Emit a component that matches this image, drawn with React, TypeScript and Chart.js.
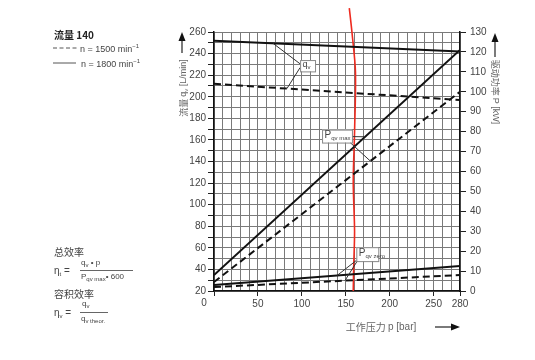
import React, { useEffect, useRef } from 'react';
import { Chart, registerables } from 'chart.js';

Chart.register(...registerables);

// ---- data ----
const pressureBar = [0, 280];
const flow1800 = [252, 242];
const flow1500 = [212, 197];
const powerMax1800 = [8, 121];
const powerMax1500 = [4.5, 100];
const powerZero1800 = [3, 12.5];
const powerZero1500 = [2, 8];
const redPressure = [154, 157, 161, 160, 158.5, 160, 159, 158.5];
const redPower = [142, 130, 110, 80, 55, 30, 12, 0];
const xTickLabels = [50, 100, 150, 200, 250, 280];

const FONT = "'Liberation Sans', Arial, 'Noto Sans CJK SC', sans-serif";
const CJK = "'Noto Sans CJK SC', 'Liberation Sans', sans-serif";

const toPoints = (xs: number[], ys: number[]) => xs.map((x, i) => ({ x, y: ys[i] }));
const valueAt = (series: number[], p: number) => {
  const [p0, p1] = pressureBar;
  return series[0] + ((series[1] - series[0]) * (p - p0)) / (p1 - p0);
};

// callouts (box corners in data units, leaders to points on series)
const callouts = [
  {
    axis: 'yL', main: 'q', sub: 'v', x0: 98, x1: 115, yTop: 234, yBot: 223.5,
    leaders: [
      { from: [98, 230.5], p: 67, series: flow1800 },
      { from: [98, 227], p: 83, series: flow1500 },
    ],
  },
  {
    axis: 'yR', main: 'P', sub: 'qv max', x0: 123, x1: 157, yTop: 81, yBot: 74.5,
    leaders: [
      { from: [157, 77.5], p: 172, series: powerMax1800 },
      { from: [155, 74.5], p: 178, series: powerMax1500 },
    ],
  },
  {
    axis: 'yR', main: 'P', sub: 'qv zero', x0: 162, x1: 187, yTop: 22, yBot: 15,
    leaders: [
      { from: [162.5, 15.5], p: 140, series: powerZero1800 },
      { from: [163, 15], p: 149, series: powerZero1500 },
    ],
  },
];

type Part = { t: string; size: number; dy?: number; bold?: boolean; font?: string };

function drawRich(ctx: CanvasRenderingContext2D, parts: Part[], x: number, y: number, align: 'left' | 'center') {
  let total = 0;
  const widths = parts.map((p) => {
    ctx.font = `${p.bold ? 'bold ' : ''}${p.size}px ${p.font || FONT}`;
    const w = ctx.measureText(p.t).width;
    total += w;
    return w;
  });
  let cx = align === 'center' ? x - total / 2 : x;
  ctx.textAlign = 'left';
  ctx.textBaseline = 'middle';
  parts.forEach((p, i) => {
    ctx.font = `${p.bold ? 'bold ' : ''}${p.size}px ${p.font || FONT}`;
    ctx.fillText(p.t, cx, y + (p.dy || 0));
    cx += widths[i];
  });
}

function arrow(ctx: CanvasRenderingContext2D, x1: number, y1: number, x2: number, y2: number) {
  const ang = Math.atan2(y2 - y1, x2 - x1);
  const head = 9;
  const half = 3.5;
  ctx.beginPath();
  ctx.moveTo(x1, y1);
  ctx.lineTo(x2 - Math.cos(ang) * head, y2 - Math.sin(ang) * head);
  ctx.lineWidth = 1.2;
  ctx.stroke();
  ctx.beginPath();
  ctx.moveTo(x2, y2);
  ctx.lineTo(x2 - Math.cos(ang) * head - Math.sin(ang) * half, y2 - Math.sin(ang) * head + Math.cos(ang) * half);
  ctx.lineTo(x2 - Math.cos(ang) * head + Math.sin(ang) * half, y2 - Math.sin(ang) * head - Math.cos(ang) * half);
  ctx.closePath();
  ctx.fill();
}

const overlayPlugin = {
  id: 'overlay',
  afterDatasetsDraw(chart: any) {
    const { ctx, scales } = chart;
    const xs = scales.x;
    ctx.save();
    // callouts
    callouts.forEach((c) => {
      const ys = scales[c.axis];
      ctx.strokeStyle = '#333';
      ctx.lineWidth = 1;
      c.leaders.forEach((l) => {
        ctx.beginPath();
        ctx.moveTo(xs.getPixelForValue(l.from[0]), ys.getPixelForValue(l.from[1]));
        ctx.lineTo(xs.getPixelForValue(l.p), ys.getPixelForValue(valueAt(l.series, l.p)));
        ctx.stroke();
      });
      const bx = xs.getPixelForValue(c.x0);
      const by = ys.getPixelForValue(c.yTop);
      const bw = xs.getPixelForValue(c.x1) - bx;
      const bh = ys.getPixelForValue(c.yBot) - by;
      ctx.fillStyle = '#fff';
      ctx.fillRect(bx, by, bw, bh);
      ctx.strokeStyle = '#888';
      ctx.strokeRect(bx + 0.5, by + 0.5, bw, bh);
      ctx.fillStyle = '#444';
      drawRich(
        ctx,
        [
          { t: c.main, size: c.main === 'P' ? 10 : 9 },
          { t: c.sub, size: 6, dy: 3 },
        ],
        bx + 2.5,
        by + bh / 2 - 1,
        'left'
      );
    });
    ctx.restore();
  },
  afterDraw(chart: any) {
    const { ctx } = chart;
    ctx.save();
    ctx.fillStyle = '#555';
    ctx.strokeStyle = '#222';
    // origin label
    ctx.font = `10px ${FONT}`;
    ctx.fillStyle = '#444';
    ctx.textAlign = 'center';
    ctx.textBaseline = 'middle';
    ctx.fillText('0', 204, 303);

    // left axis title
    ctx.fillStyle = '#666';
    ctx.save();
    ctx.translate(184, 88);
    ctx.rotate(-Math.PI / 2);
    drawRich(
      ctx,
      [
        { t: '流量 ', size: 9, font: CJK },
        { t: 'q', size: 9 },
        { t: 'v', size: 6, dy: 2 },
        { t: ' [L/min]', size: 9 },
      ],
      0,
      0,
      'center'
    );
    ctx.restore();
    ctx.fillStyle = '#111';
    arrow(ctx, 182, 53, 182, 32);

    // right axis title
    ctx.fillStyle = '#666';
    ctx.save();
    ctx.translate(495, 92);
    ctx.rotate(Math.PI / 2);
    drawRich(
      ctx,
      [
        { t: '驱动功率 ', size: 9, font: CJK },
        { t: 'P [kW]', size: 9 },
      ],
      0,
      0,
      'center'
    );
    ctx.restore();
    ctx.fillStyle = '#111';
    arrow(ctx, 495, 57, 495, 33);

    // x axis title
    ctx.fillStyle = '#666';
    drawRich(
      ctx,
      [
        { t: '工作压力 ', size: 10, font: CJK },
        { t: 'p [bar]', size: 10 },
      ],
      381,
      327,
      'center'
    );
    ctx.fillStyle = '#111';
    arrow(ctx, 435, 327, 460, 327);
    ctx.restore();
  },
};

const tickFont = { family: FONT, size: 10 };

export default function App() {
  const ref = useRef<HTMLCanvasElement | null>(null);

  useEffect(() => {
    if (!ref.current) return;
    const solid = { borderColor: '#111', borderWidth: 2, pointRadius: 0, fill: false };
    const dashed = { ...solid, borderDash: [7, 4] };
    const chart = new Chart(ref.current, {
      type: 'line',
      data: {
        datasets: [
          { ...solid, data: toPoints(pressureBar, flow1800), yAxisID: 'yL' },
          { ...dashed, data: toPoints(pressureBar, flow1500), yAxisID: 'yL' },
          { ...solid, data: toPoints(pressureBar, powerMax1800), yAxisID: 'yR' },
          { ...dashed, data: toPoints(pressureBar, powerMax1500), yAxisID: 'yR' },
          { ...solid, data: toPoints(pressureBar, powerZero1800), yAxisID: 'yR' },
          { ...dashed, data: toPoints(pressureBar, powerZero1500), yAxisID: 'yR' },
          {
            data: toPoints(redPressure, redPower),
            yAxisID: 'yR',
            borderColor: '#ee2a1f',
            borderWidth: 1.6,
            pointRadius: 0,
            tension: 0.3,
            clip: false,
          } as any,
        ],
      },
      options: {
        animation: false,
        responsive: false,
        events: [],
        layout: { padding: { left: 174, right: 35, top: 32, bottom: 49 } },
        plugins: { legend: { display: false }, tooltip: { enabled: false } },
        scales: {
          x: {
            type: 'linear',
            min: 0,
            max: 280,
            ticks: {
              stepSize: 10,
              autoSkip: false,
              maxRotation: 0,
              padding: 2,
              font: tickFont,
              color: '#444',
              callback: (v: any) => (xTickLabels.includes(Number(v)) ? String(v) : ''),
            },
            grid: {
              color: '#7a7a7a',
              lineWidth: 1,
              tickLength: 5,
              tickColor: (c: any) => (c.tick && (xTickLabels.includes(c.tick.value) || c.tick.value === 0) ? '#222' : 'rgba(0,0,0,0)'),
            },
            border: { color: '#111', width: 1.5 },
            afterFit: (s: any) => {
              s.height = 20;
            },
          },
          yL: {
            type: 'linear',
            position: 'left',
            min: 20,
            max: 260,
            ticks: {
              stepSize: 10,
              autoSkip: false,
              padding: 2,
              font: tickFont,
              color: '#444',
              callback: (v: any) => (Number(v) % 20 === 0 ? String(v) : ''),
            },
            grid: { color: '#7a7a7a', lineWidth: 1, tickLength: 6, tickColor: '#222' },
            border: { color: '#111', width: 1.5 },
            afterFit: (s: any) => {
              s.width = 40;
            },
          },
          yR: {
            type: 'linear',
            position: 'right',
            min: 0,
            max: 130,
            ticks: { stepSize: 10, autoSkip: false, padding: 4, font: tickFont, color: '#444' },
            grid: { drawOnChartArea: false, tickLength: 6, tickColor: '#222', color: '#222' },
            border: { color: '#111', width: 1.5 },
            afterFit: (s: any) => {
              s.width = 40;
            },
          },
        },
      } as any,
      plugins: [overlayPlugin],
    });
    return () => chart.destroy();
  }, []);

  const txt: React.CSSProperties = {
    position: 'absolute',
    fontFamily: FONT,
    color: '#444',
    whiteSpace: 'nowrap',
    lineHeight: '1',
  };
  const sub: React.CSSProperties = { fontSize: '6px', verticalAlign: '-2px' };

  return (
    <div style={{ position: 'fixed', left: 0, top: 0, width: 535, height: 360, background: '#fff' }}>
      <canvas ref={ref} width={535} height={360} style={{ display: 'block' }} />
      {/* legend */}
      <div style={{ ...txt, left: 54, top: 30, fontSize: '10px', fontWeight: 'bold', color: '#222', fontFamily: CJK }}>流量 140</div>
      <svg style={{ position: 'absolute', left: 52, top: 44 }} width={28} height={8}>
        <line x1={1} y1={4} x2={26} y2={4} stroke="#555" strokeWidth={1} strokeDasharray="4 2.5" />
      </svg>
      <div style={{ ...txt, left: 80, top: 43, fontSize: '9px' }}>
        n = 1500 min<sup style={{ fontSize: '6px' }}>−1</sup>
      </div>
      <svg style={{ position: 'absolute', left: 52, top: 59 }} width={26} height={8}>
        <line x1={1} y1={4} x2={24} y2={4} stroke="#555" strokeWidth={1} />
      </svg>
      <div style={{ ...txt, left: 81, top: 58, fontSize: '9px' }}>
        n = 1800 min<sup style={{ fontSize: '6px' }}>−1</sup>
      </div>

      {/* formulas */}
      <div style={{ ...txt, left: 54, top: 247, fontSize: '10px', fontFamily: CJK }}>总效率</div>
      <div style={{ ...txt, left: 54, top: 266, fontSize: '10px' }}>
        η<span style={sub}>t</span> =
      </div>
      <div style={{ ...txt, left: 81, top: 259, fontSize: '8px' }}>
        q<span style={sub}>v</span> • p
      </div>
      <div style={{ position: 'absolute', left: 80, top: 270, width: 53, height: 0, borderTop: '1px solid #666' }} />
      <div style={{ ...txt, left: 81, top: 273, fontSize: '8px' }}>
        P<span style={sub}>qv max</span>• 600
      </div>
      <div style={{ ...txt, left: 54, top: 289, fontSize: '10px', fontFamily: CJK }}>容积效率</div>
      <div style={{ ...txt, left: 54, top: 308, fontSize: '10px' }}>
        η<span style={sub}>v</span> =
      </div>
      <div style={{ ...txt, left: 82, top: 300, fontSize: '8px' }}>
        q<span style={sub}>v</span>
      </div>
      <div style={{ position: 'absolute', left: 80, top: 312, width: 28, height: 0, borderTop: '1px solid #666' }} />
      <div style={{ ...txt, left: 81, top: 315, fontSize: '8px' }}>
        q<span style={sub}>v theor.</span>
      </div>
    </div>
  );
}
